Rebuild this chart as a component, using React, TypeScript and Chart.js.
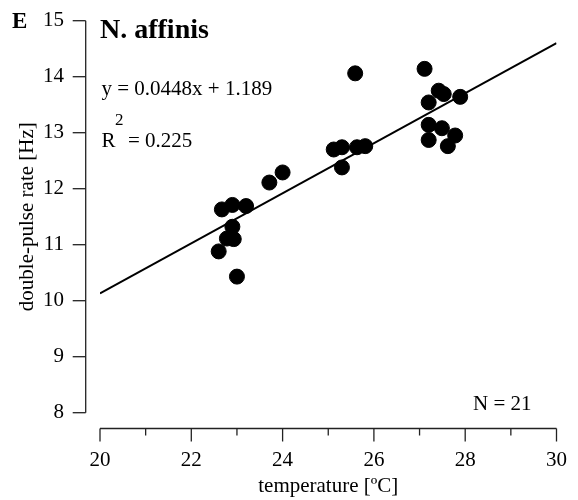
import React, { useEffect, useRef } from "react";
import { Chart, registerables } from "chart.js";

Chart.register(...registerables);

const temperature = [
  22.67, 22.9, 23.2, 23.71, 24.0, 22.9, 22.78, 22.93, 22.6, 23.0,
  25.59, 25.12, 25.3, 25.63, 25.81, 25.3,
  27.11, 27.42, 27.53, 27.2, 27.89, 27.2, 27.49, 27.78, 27.2, 27.62,
];
const pulseRate = [
  11.63, 11.71, 11.69, 12.11, 12.29, 11.32, 11.11, 11.1, 10.88, 10.43,
  14.06, 12.7, 12.74, 12.74, 12.76, 12.38,
  14.14, 13.75, 13.69, 13.54, 13.64, 13.14, 13.08, 12.95, 12.87, 12.76,
];
const fitX = [20, 30];
const fitY = [10.13, 14.6];
const xTicks = [20, 22, 24, 26, 28, 30];
const xMinorTicks = [21, 23, 25, 27, 29];
const yTicks = [8, 9, 10, 11, 12, 13, 14, 15];
const panelLabel = "E";
const speciesName = "N. affinis";
const equationText = "y = 0.0448x + 1.189";
const r2Value = "= 0.225";
const nText = "N = 21";
const xTitle = "temperature [ºC]";
const yTitle = "double-pulse rate [Hz]";

const SERIF = "'Liberation Serif', 'Times New Roman', serif";

const axesPlugin = {
  id: "customAxes",
  afterDraw(chart: any) {
    const ctx = chart.ctx;
    const xs = chart.scales.x;
    const ys = chart.scales.y;
    const axisColor = "#222";
    ctx.save();
    ctx.strokeStyle = axisColor;
    ctx.fillStyle = "#000";
    ctx.lineWidth = 1.3;

    // y axis (detached to the left)
    const yAxisX = 85.7;
    const yTop = ys.getPixelForValue(15);
    const yBot = ys.getPixelForValue(8);
    ctx.beginPath();
    ctx.moveTo(yAxisX, yTop);
    ctx.lineTo(yAxisX, yBot);
    ctx.stroke();
    ctx.font = `21px ${SERIF}`;
    ctx.textAlign = "right";
    ctx.textBaseline = "middle";
    yTicks.forEach((v) => {
      const py = ys.getPixelForValue(v);
      ctx.beginPath();
      ctx.moveTo(yAxisX - 13, py);
      ctx.lineTo(yAxisX, py);
      ctx.stroke();
      ctx.fillText(String(v), 64, py);
    });

    // x axis (detached below)
    const xAxisY = 428.5;
    const xl = xs.getPixelForValue(20);
    const xr = xs.getPixelForValue(30);
    ctx.beginPath();
    ctx.moveTo(xl, xAxisY);
    ctx.lineTo(xr, xAxisY);
    ctx.stroke();
    ctx.textAlign = "center";
    ctx.textBaseline = "alphabetic";
    xTicks.forEach((v) => {
      const px = xs.getPixelForValue(v);
      ctx.beginPath();
      ctx.moveTo(px, xAxisY);
      ctx.lineTo(px, xAxisY + 13);
      ctx.stroke();
      ctx.fillText(String(v), px, 466);
    });
    xMinorTicks.forEach((v) => {
      const px = xs.getPixelForValue(v);
      ctx.beginPath();
      ctx.moveTo(px, xAxisY);
      ctx.lineTo(px, xAxisY + 7);
      ctx.stroke();
    });

    // axis titles
    ctx.textAlign = "center";
    ctx.textBaseline = "middle";
    ctx.fillText(xTitle, (xl + xr) / 2, 486);
    ctx.save();
    ctx.translate(27, (yTop + yBot) / 2);
    ctx.rotate(-Math.PI / 2);
    ctx.fillText(yTitle, 0, 0);
    ctx.restore();

    // annotations
    ctx.textAlign = "left";
    ctx.textBaseline = "alphabetic";
    ctx.font = `bold 23px ${SERIF}`;
    ctx.fillText(panelLabel, 12, 28);
    ctx.font = `bold 28px ${SERIF}`;
    ctx.fillText(speciesName, 100, 38);
    ctx.font = `21px ${SERIF}`;
    ctx.fillText(equationText, 101.5, 95);
    ctx.fillText("R", 101.5, 147);
    ctx.font = `17px ${SERIF}`;
    ctx.fillText("2", 115, 125);
    ctx.font = `21px ${SERIF}`;
    ctx.fillText(r2Value, 128, 147);
    ctx.fillText(nText, 473, 410);
    ctx.restore();
  },
};

export default function App() {
  const ref = useRef<HTMLCanvasElement | null>(null);
  useEffect(() => {
    document.body.style.margin = "0";
    const canvas = ref.current;
    if (!canvas) return;
    const chart = new Chart(canvas, {
      type: "scatter",
      data: {
        datasets: [
          {
            type: "line",
            data: fitX.map((x, i) => ({ x, y: fitY[i] })),
            borderColor: "#000",
            borderWidth: 2,
            pointRadius: 0,
            fill: false,
          } as any,
          {
            type: "scatter",
            data: temperature.map((x, i) => ({ x, y: pulseRate[i] })),
            backgroundColor: "#000",
            borderColor: "#000",
            borderWidth: 1,
            pointRadius: 7.5,
          },
        ],
      },
      options: {
        animation: false,
        responsive: false,
        devicePixelRatio: 1,
        layout: { padding: { left: 100, right: 21.5, top: 20.7, bottom: 87.3 } },
        plugins: { legend: { display: false }, tooltip: { enabled: false } },
        scales: {
          x: { type: "linear", min: 20, max: 30, display: false },
          y: { type: "linear", min: 8, max: 15, display: false },
        },
        elements: { point: { hoverRadius: 7.5 } },
      } as any,
      plugins: [axesPlugin],
    });
    return () => chart.destroy();
  }, []);
  return (
    <div style={{ width: 578, height: 500 }}>
      <canvas ref={ref} width={578} height={500} style={{ display: "block" }} />
    </div>
  );
}
